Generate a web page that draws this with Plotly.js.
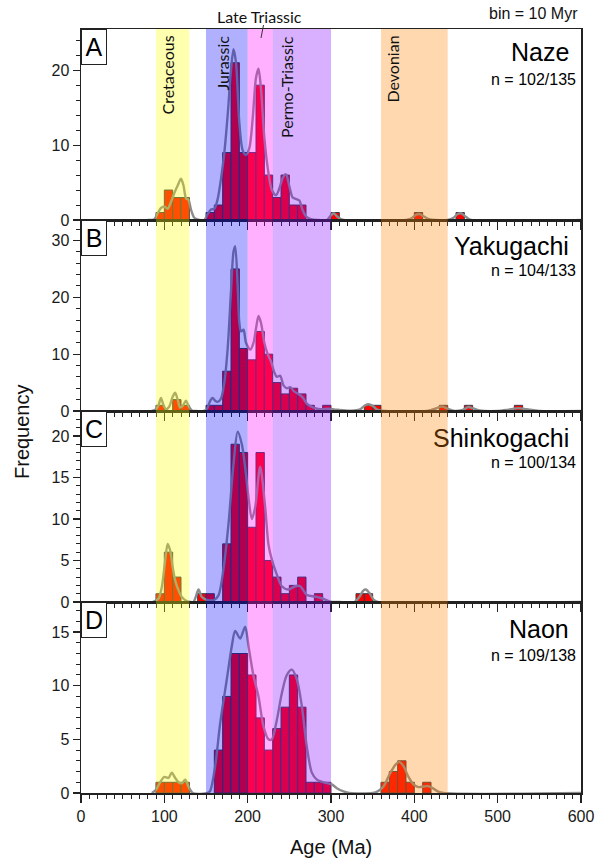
<!DOCTYPE html>
<html><head><meta charset="utf-8">
<script src="https://cdn.plot.ly/plotly-3.0.1.min.js"></script>
<style>html,body{margin:0;padding:0;background:#fff}#chart{width:607px;height:865px}</style>
</head><body><div id="chart"></div>
<script>
// ---------- data ----------
const panelLetters = ["A", "B", "C", "D"];
const panelNames = ["Naze", "Yakugachi", "Shinkogachi", "Naon"];
const panelCounts = ["n = 102/135", "n = 104/133", "n = 100/134", "n = 109/138"];
const binWidth = 10;

const binsA = [90,100,110,120,150,160,170,180,190,200,210,220,230,240,250,260,300,400,450];
const countsA = [1,4,3,3,1,2,9,21,9,9,18,6,3,6,2,2,1,1,1];

const binsB = [90,110,120,150,160,170,180,190,200,210,220,230,240,250,260,270,290,340,350,430,460,520];
const countsB = [1,2,1,1,1,7,25,11,9,14,10,5,3,4,3,1,1,1,1,1,1,1];

const binsC = [90,100,110,140,150,170,180,190,200,210,220,230,240,250,260,280,330,340];
const countsC = [1,6,3,1,1,7,19,18,9,18,5,3,1,2,3,1,1,1];

const binsD = [90,100,110,120,160,170,180,190,200,210,220,230,240,250,260,270,280,290,360,370,380,390,410];
const countsD = [1,1,1,1,4,9,13,13,11,7,4,6,8,11,8,1,1,1,1,2,3,1,1];

// density curves (in frequency units)
const kdeAgeA = [80,88,92,96,100,104,108,112,116,120,123,126,129,132,136,142,148,152,156,160,164,168,172,176,180,183,186,190,194,198,202,206,210,213,216,220,224,229,234,238,242,246,250,254,258,262,266,270,276,285,295,299,303,308,315,390,396,402,406,411,418,425,440,447,452,456,461,468,600];
const kdeFreqA = [0,0.1,0.9,1.6,1.8,1.5,2.4,3.6,4.6,5.5,4.6,2.9,2.7,1.4,0.3,0,0,0.8,1.4,1.5,2.8,5.5,9,14,20,22.8,21,13,9.3,8.7,9.6,13.5,19,20.2,17.5,11,7,4,3.3,4.2,5.6,6.1,4.5,3,2.8,2.6,1.3,0.5,0.1,0,0,0.5,0.9,0.4,0,0,0.2,0.7,0.8,0.5,0.1,0,0,0.3,0.8,0.9,0.5,0,0];

const kdeAgeB = [85,90,93,96,99,102,106,110,113,116,119,122,126,129,133,138,147,151,155,158,161,164,168,172,176,180,183,185,188,190,192,195,198,203,207,210,213,216,220,224,228,232,235,239,243,247,251,256,261,266,271,279,287,297,305,310,325,335,341,345,350,356,365,415,425,433,440,448,458,465,470,478,500,512,525,535,550,600];
const kdeFreqB = [0,0.3,1,2.3,1,0.3,0.8,2.5,3.2,2,0.6,0.9,1.8,0.9,0.1,0,0,0.3,1.8,2.3,1.8,1.6,2.2,5,11,21,28,29,22,15.5,14,14.3,12,10.8,12,14.5,16.7,15.5,12,10,8.7,6.8,6,6.2,4.5,4,4.2,3.4,3,2.4,1.3,0.6,0.3,0.4,0.25,0.2,0.05,0.3,1,1.2,0.9,0.2,0,0,0.4,0.8,0.4,0,0.2,0.7,0.5,0.1,0,0.2,0.5,0.3,0,0];

const kdeAgeC = [86,93,97,101,104,107,110,113,117,121,127,132,135,138,141,145,150,155,159,165,171,177,183,188,193,197,201,205,209,215,221,225,229,235,241,249,257,263,271,281,289,299,310,328,334,339,342,346,351,356,600];
const kdeFreqC = [0,0.4,1.8,5,7,6.2,4.2,2.6,1.4,0.6,0.1,0,0,0.7,1.5,0.6,0.3,0.2,0.2,0.8,4,9.4,16.6,20.5,19,16.2,12.6,10,11.4,16.3,11.4,6.9,5.1,3.3,1.9,1.5,1.9,1.9,0.85,0.65,0.45,0.05,0,0,0.6,1.4,1.5,1.1,0.3,0,0];

const kdeAgeD = [85,90,95,100,105,109,113,117,121,125,129,134,152,155,161,167,175,181,185,191,197,201,207,213,219,225,229,235,241,247,253,259,265,271,277,283,291,301,307,315,322,350,356,363,370,377,382,387,393,399,405,411,416,422,428,435,600];
const kdeFreqD = [0,0.3,1,1.5,1.4,1.9,1.4,1,0.9,1.25,0.6,0,0,0.2,2.5,6.5,10.6,13.7,15.1,14.4,15.5,13.7,10.9,9,6.2,5,5,6.8,9.3,11,11.5,10.6,8.1,4.3,1.9,1.25,1,0.8,0.45,0.15,0,0,0.15,0.6,1.7,2.6,2.9,2.5,1.5,0.8,0.55,0.6,0.65,0.45,0.15,0,0];

const bandNames = ["Cretaceous", "Jurassic", "Late Triassic", "Permo-Triassic", "Devonian"];
const bandStart = [90, 150, 200, 230, 360];
const bandEnd = [130, 200, 230, 300, 440];
const bandColors = ["#FFFF00", "#0000FF", "#FF00FF", "#8000FF", "#FF8000"];

const xTickVals = [0, 100, 200, 300, 400, 500, 600];
const yRanges = [[0, 25.5], [0, 33.6], [0, 23], [0, 17.8]];
const yDticks = [10, 10, 5, 5];
const yMinorDticks = [2, 2, 1, 1];

// ---------- figure ----------
const W = 607, H = 865, L = 81, R = 581, T = 29, B = 793;
const px = x => (x - L) / (R - L);
const py = y => (B - y) / (B - T);
const FONT = "Liberation Sans, Arial, sans-serif";
const LABELFONT = "Lato, Open Sans, sans-serif";

const panels = [
  {bins: binsA, counts: countsA, kx: kdeAgeA, ky: kdeFreqA},
  {bins: binsB, counts: countsB, kx: kdeAgeB, ky: kdeFreqB},
  {bins: binsC, counts: countsC, kx: kdeAgeC, ky: kdeFreqC},
  {bins: binsD, counts: countsD, kx: kdeAgeD, ky: kdeFreqD}
];

const traces = [];
const layout = {
  width: W, height: H,
  margin: {l: L, r: W - R, t: T, b: H - B, pad: 0},
  paper_bgcolor: "#fff", plot_bgcolor: "rgba(0,0,0,0)",
  showlegend: false,
  barmode: "overlay",
  shapes: [], annotations: []
};

panels.forEach((p, i) => {
  const sfx = i === 0 ? "" : String(i + 1);
  const xa = "x" + sfx, ya = "y" + sfx;
  traces.push({
    type: "bar", x: p.bins.map(b => b + binWidth / 2), y: p.counts, width: binWidth,
    xaxis: xa, yaxis: ya,
    marker: {color: "#FF0000", line: {color: "#3a3a4a", width: 1}},
    hoverinfo: "skip"
  });
  traces.push({
    type: "scatter", mode: "lines", x: p.kx, y: p.ky, xaxis: xa, yaxis: ya,
    line: {color: "#8c8c8c", width: 2.4, shape: "spline", smoothing: 0.8},
    hoverinfo: "skip"
  });
  const top = 1 - i * 0.25, bottom = 0.75 - i * 0.25;
  layout["xaxis" + sfx] = {
    domain: [0, 1], range: [0, 600], anchor: ya,
    showline: true, mirror: true, linecolor: "#222", linewidth: 1.5,
    ticks: "outside", ticklen: 8, tickwidth: 1.2, tickcolor: "#222",
    tickvals: xTickVals, ticktext: xTickVals.map(String),
    minor: {dtick: 10, tick0: 0, ticks: "outside", ticklen: 4, tickwidth: 1, tickcolor: "#222"},
    showticklabels: i === 3,
    tickfont: {family: FONT, size: 16, color: "#1a1a1a"},
    showgrid: false, zeroline: false, fixedrange: true
  };
  layout["yaxis" + sfx] = {
    domain: [bottom, top], range: yRanges[i], anchor: xa,
    showline: true, mirror: true, linecolor: "#222", linewidth: 1.5,
    ticks: "outside", ticklen: 7, tickwidth: 1.2, tickcolor: "#222",
    dtick: yDticks[i], tick0: 0,
    minor: {dtick: yMinorDticks[i], tick0: 0, ticks: "outside", ticklen: 4, tickwidth: 1, tickcolor: "#222"},
    tickfont: {family: FONT, size: 16, color: "#1a1a1a"},
    showgrid: false, zeroline: false, fixedrange: true
  };
  // panel letter box
  layout.annotations.push({
    xref: "paper", yref: "paper", x: 0, y: top, xanchor: "left", yanchor: "top",
    text: panelLetters[i], showarrow: false,
    font: {family: FONT, size: 25, color: "#000"},
    bgcolor: "#fff", bordercolor: "#222", borderwidth: 1, borderpad: 2,
    width: 20, height: 30
  });
});

// geological time bands, drawn above data
bandNames.forEach((n, k) => {
  layout.shapes.push({
    type: "rect", xref: "x", yref: "paper", x0: bandStart[k], x1: bandEnd[k], y0: 0, y1: 1,
    fillcolor: bandColors[k], opacity: 0.31, line: {width: 0}, layer: "above"
  });
});
// leader line for Late Triassic
layout.shapes.push({
  type: "line", xref: "paper", yref: "paper",
  x0: px(263.5), y0: py(25), x1: px(261), y1: py(38),
  line: {color: "#333", width: 1}, layer: "above"
});

// band labels
const rot = [
  {t: bandNames[0], x: 167},
  {t: bandNames[1], x: 222},
  {t: bandNames[3], x: 286},
  {t: bandNames[4], x: 392}
];
rot.forEach(r => layout.annotations.push({
  xref: "paper", yref: "paper", x: px(r.x), y: py(34), xanchor: "center", yanchor: "top",
  text: r.t, textangle: -90, showarrow: false,
  font: {family: LABELFONT, size: 16, color: "#111"}
}));
layout.annotations.push({
  xref: "paper", yref: "paper", x: px(259), y: py(16), xanchor: "center", yanchor: "middle",
  text: bandNames[2], showarrow: false, font: {family: LABELFONT, size: 16, color: "#111"}
});
layout.annotations.push({
  xref: "paper", yref: "paper", x: px(580), y: py(13.5), xanchor: "right", yanchor: "middle",
  text: "bin = 10 Myr", showarrow: false, font: {family: FONT, size: 16, color: "#111"}
});

// station names and counts
const nameY = [52, 246, 438, 629];
const countY = [79, 270, 462, 655];
panelNames.forEach((n, i) => {
  const txt = n === "Shinkogachi" ? '<span style="color:#4f2800">S</span>hinkogachi' : n;
  layout.annotations.push({
    xref: "paper", yref: "paper", x: px(571), y: py(nameY[i]), xanchor: "right", yanchor: "middle",
    text: txt, showarrow: false, font: {family: FONT, size: 25, color: "#000"}
  });
  layout.annotations.push({
    xref: "paper", yref: "paper", x: px(578), y: py(countY[i]), xanchor: "right", yanchor: "middle",
    text: panelCounts[i], showarrow: false, font: {family: FONT, size: 16, color: "#000"}
  });
});

// axis titles
layout.annotations.push({
  xref: "paper", yref: "paper", x: px(331), y: py(847), xanchor: "center", yanchor: "middle",
  text: "Age (Ma)", showarrow: false, font: {family: FONT, size: 20, color: "#111"}
});
layout.annotations.push({
  xref: "paper", yref: "paper", x: px(22), y: py(432), xanchor: "center", yanchor: "middle",
  text: "Frequency", textangle: -90, showarrow: false, font: {family: FONT, size: 20, color: "#111"}
});

Plotly.newPlot("chart", traces, layout, {staticPlot: true, displayModeBar: false});
</script>
</body></html>
